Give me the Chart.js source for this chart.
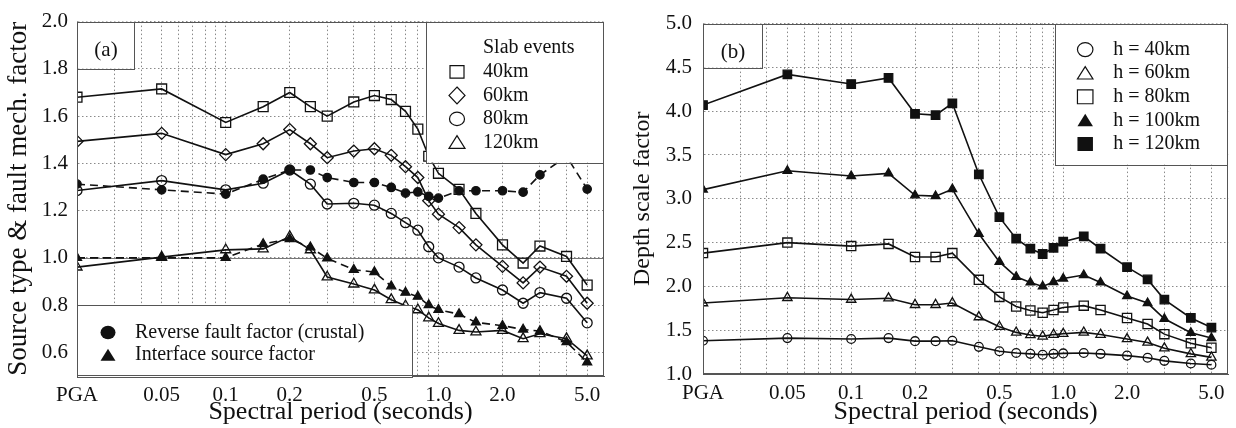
<!DOCTYPE html>
<html><head><meta charset="utf-8">
<script src="https://cdn.jsdelivr.net/npm/chart.js@4/dist/chart.umd.min.js"></script>
<style>
html,body{margin:0;padding:0;background:#fff;}
#wrap{position:relative;width:1236px;height:428px;overflow:hidden;}
.c{position:absolute;top:0;width:618px;height:428px;}
</style></head><body>
<div id="wrap">
<div class="c" style="left:0"><canvas id="ca" width="618" height="428"></canvas></div>
<div class="c" style="left:618px"><canvas id="cb" width="618" height="428"></canvas></div>
</div>
<script>
// ---- data ----
const pgaPeriod = 0.02; // PGA plotted at this period
const periods = [pgaPeriod,0.05,0.1,0.15,0.2,0.25,0.3,0.4,0.5,0.6,0.7,0.8,0.9,1.0,1.25,1.5,2.0,2.5,3.0,4.0,5.0];
const gridPeriods = [0.02,0.03,0.04,0.05,0.06,0.07,0.08,0.09,0.1,0.2,0.3,0.4,0.5,0.6,0.7,0.8,0.9,1,2,3,4,5];
const periodTickValues = [0.02,0.05,0.1,0.2,0.5,1,2,5];
const periodTickLabels = ['PGA','0.05','0.1','0.2','0.5','1.0','2.0','5.0'];

// panel (a)
const slab40  = [1.68,1.715,1.573,1.64,1.70,1.64,1.60,1.66,1.687,1.67,1.62,1.545,1.43,1.358,1.29,1.188,1.055,0.978,1.05,1.006,0.885];
const slab60  = [1.493,1.527,1.437,1.483,1.543,1.483,1.424,1.452,1.462,1.434,1.386,1.34,1.242,1.185,1.128,1.055,0.964,0.894,0.961,0.922,0.808];
const slab80  = [1.285,1.327,1.288,1.316,1.372,1.312,1.228,1.231,1.223,1.188,1.149,1.117,1.047,1.0,0.961,0.915,0.864,0.808,0.853,0.829,0.725];
const slab120 = [0.961,1.003,1.034,1.038,1.09,1.034,0.919,0.889,0.864,0.823,0.797,0.78,0.746,0.722,0.693,0.686,0.693,0.658,0.679,0.658,0.585];
const reverseFault   = [1.312,1.288,1.27,1.333,1.372,1.372,1.34,1.319,1.319,1.298,1.274,1.279,1.26,1.253,1.284,1.284,1.284,1.278,1.351,1.43,1.291];
const interfaceSource = [1.0,1.0,1.0,1.059,1.08,1.045,0.998,0.95,0.94,0.88,0.853,0.836,0.80,0.78,0.762,0.727,0.713,0.697,0.69,0.644,0.558];
const yTicksA = [0.6,0.8,1.0,1.2,1.4,1.6,1.8,2.0];
const referenceLevelA = 1.0;

// panel (b)
const depth40  = [1.38,1.41,1.40,1.41,1.375,1.375,1.38,1.31,1.26,1.24,1.23,1.22,1.23,1.235,1.24,1.23,1.21,1.185,1.15,1.12,1.105];
const depth60  = [1.81,1.87,1.85,1.865,1.79,1.79,1.81,1.65,1.54,1.475,1.445,1.43,1.45,1.46,1.475,1.45,1.40,1.36,1.295,1.23,1.19];
const depth80  = [2.38,2.50,2.46,2.485,2.335,2.335,2.38,2.075,1.88,1.77,1.725,1.70,1.73,1.76,1.78,1.73,1.64,1.57,1.455,1.35,1.30];
const depth100 = [3.105,3.32,3.26,3.29,3.04,3.03,3.11,2.60,2.28,2.11,2.045,2.0,2.05,2.09,2.13,2.045,1.89,1.81,1.63,1.47,1.41];
const depth120 = [4.07,4.42,4.31,4.38,3.97,3.955,4.09,3.28,2.79,2.545,2.43,2.37,2.44,2.51,2.57,2.43,2.22,2.08,1.85,1.64,1.53];
const yTicksB = [1.0,1.5,2.0,2.5,3.0,3.5,4.0,4.5,5.0];

const slabLegendTitle = 'Slab events';
const slabLabels = ['40km','60km','80km','120km'];
const crustLabels = ['Reverse fault factor (crustal)','Interface source factor'];
const depthLabels = ['h = 40km','h = 60km','h = 80km','h = 100km','h = 120km'];
const panelLabels = ['(a)','(b)'];
const xTitle = 'Spectral period (seconds)';
const yTitleA = 'Source type & fault mech. factor';
const yTitleB = 'Depth scale factor';

// ---- helpers ----
const FONT = "'Liberation Serif','Times New Roman',serif";
const INK = '#111';
const FRAME = '#555';
const pts = vals => vals.map((v,i)=>({x:periods[i], y:v}));

function ds(label, vals, style, radius, filled, dashed){
  return {
    label, data: pts(vals),
    borderColor: INK, borderWidth: 1.6, borderDash: dashed ? [8,5] : [],
    pointStyle: style, pointRadius: radius, pointHoverRadius: radius,
    pointBorderColor: INK, pointBorderWidth: 1.3,
    pointBackgroundColor: filled ? INK : 'rgba(0,0,0,0)',
    tension: 0, fill: false
  };
}

function marker(ctx, style, x, y, s, filled){
  ctx.save();
  ctx.lineWidth = 1.2; ctx.strokeStyle = INK; ctx.fillStyle = INK;
  ctx.beginPath();
  const h = s/2;
  if (style==='circle'){ ctx.ellipse(x,y,h,h*0.9,0,0,Math.PI*2); }
  else if (style==='rect'){ ctx.rect(x-h,y-h*0.9,s,s*0.9); }
  else if (style==='diamond'){ ctx.moveTo(x,y-h*1.05); ctx.lineTo(x+h,y); ctx.lineTo(x,y+h*1.05); ctx.lineTo(x-h,y); ctx.closePath(); }
  else if (style==='triangle'){ ctx.moveTo(x,y-h*0.85); ctx.lineTo(x+h,y+h*0.75); ctx.lineTo(x-h,y+h*0.75); ctx.closePath(); }
  if (filled) ctx.fill(); else ctx.stroke();
  ctx.restore();
}
function box(ctx, x, y, w, h){
  ctx.save(); ctx.fillStyle='#fff'; ctx.fillRect(x,y,w,h);
  ctx.strokeStyle=FRAME; ctx.lineWidth=1; ctx.strokeRect(Math.round(x)+0.5,Math.round(y)+0.5,Math.round(w)-1,Math.round(h));
  ctx.restore();
}
function text(ctx, str, x, y, size, align){
  ctx.save(); ctx.fillStyle=INK; ctx.font = size+'px '+FONT;
  ctx.textBaseline='middle'; ctx.textAlign=align||'left'; ctx.fillText(str,x,y); ctx.restore();
}

function makeOptions(cfg){
  return {
    responsive:false, animation:false, devicePixelRatio:1,
    layout:{padding:{top:cfg.padTop,right:cfg.padRight,left:0,bottom:0}},
    plugins:{legend:{display:false}, tooltip:{enabled:false}},
    scales:{
      x:{
        type:'logarithmic', min:0.02, max:6,
        afterBuildTicks: s => { s.ticks = gridPeriods.map(v=>({value:v})); },
        afterFit: s => { s.height = cfg.xAxisH; },
        ticks:{ autoSkip:false, maxRotation:0, padding:7, color:INK,
          font:{family:FONT,size:21},
          callback: v => { const i = periodTickValues.findIndex(t=>Math.abs(t-v)<1e-9); return i>=0 ? periodTickLabels[i] : ''; } },
        grid:{ color:'#8a8a8a', lineWidth:1, drawTicks:false },
        border:{ display:true, color:FRAME, dash:[1.5,2.5] },
        title:{ display:true, text:xTitle, color:INK, font:{family:FONT,size:26}, padding:{top:0,bottom:0} }
      },
      y:{
        type:'linear', min:cfg.yMin, max:cfg.yMax,
        afterBuildTicks: s => { s.ticks = cfg.yTicks.map(v=>({value:v})); },
        afterFit: s => { s.width = cfg.yAxisW; },
        ticks:{ padding:cfg.yPad, color:INK, font:{family:FONT,size:21}, callback: v => Number(v).toFixed(1) },
        grid:{ color:'#8a8a8a', lineWidth:1, drawTicks:false },
        border:{ display:true, color:FRAME, dash:[1.5,2.5] },
        title:{ display:true, text:cfg.yTitle, color:INK, font:{family:FONT,size:cfg.yTitleSize}, padding:{top:cfg.yTitlePad,bottom:0} }
      }
    }
  };
}

function frame(ctx,a){
  ctx.save(); ctx.strokeStyle=FRAME; ctx.lineWidth=1;
  ctx.strokeRect(Math.round(a.left)+0.5, Math.round(a.top)+0.5, Math.round(a.right-a.left)-1, Math.round(a.bottom-a.top)-1);
  ctx.restore();
}

const decoA = {
  id:'decoA',
  beforeDatasetsDraw(chart){
    const {ctx, chartArea:a, scales:{y}} = chart;
    const py = Math.round(y.getPixelForValue(referenceLevelA))+0.5;
    ctx.save(); ctx.strokeStyle='#777'; ctx.lineWidth=1;
    ctx.beginPath(); ctx.moveTo(a.left,py); ctx.lineTo(a.right,py); ctx.stroke(); ctx.restore();
  },
  afterDatasetsDraw(chart){
    const {ctx, chartArea:a} = chart;
    box(ctx, a.left, a.top, 58, 47);
    text(ctx, panelLabels[0], a.left+29, a.top+29, 21, 'center');
    const lx = a.right-178;
    box(ctx, lx, a.top, 178, 141);
    text(ctx, slabLegendTitle, lx+57, a.top+26, 20);
    const styles = ['rect','diamond','circle','triangle'];
    const sizes = [14,16,15,16];
    slabLabels.forEach((lab,i)=>{
      const yy = a.top+50.3+23.5*i;
      marker(ctx, styles[i], lx+31, yy, sizes[i], false);
      text(ctx, lab, lx+57, yy, 20);
    });
    const by = a.bottom-71;
    box(ctx, a.left, by, 336, 72);
    const cs = ['circle','triangle'];
    crustLabels.forEach((lab,i)=>{
      const yy = by+27.5+22.6*i;
      marker(ctx, cs[i], a.left+31, yy, 15, true);
      text(ctx, lab, a.left+58, yy, 20);
    });
  },
  afterDraw(chart){ frame(chart.ctx, chart.chartArea); }
};

const decoB = {
  id:'decoB',
  afterDatasetsDraw(chart){
    const {ctx, chartArea:a} = chart;
    box(ctx, a.left, a.top, 60, 44);
    text(ctx, panelLabels[1], a.left+30, a.top+29, 21, 'center');
    const lx = a.right-173;
    box(ctx, lx, a.top, 173, 141);
    const st = [['circle',false],['triangle',false],['rect',false],['triangle',true],['rect',true]];
    depthLabels.forEach((lab,i)=>{
      const yy = a.top+26+23.6*i;
      marker(ctx, st[i][0], lx+30, yy, 15.5, st[i][1]);
      text(ctx, lab, lx+58, yy, 20);
    });
  },
  afterDraw(chart){ frame(chart.ctx, chart.chartArea); }
};

new Chart(document.getElementById('ca'), {
  type:'line',
  data:{ datasets:[
    ds('40km', slab40, 'rect', 7, false, false),
    ds('60km', slab60, 'rectRot', 6, false, false),
    ds('80km', slab80, 'circle', 5, false, false),
    ds('120km', slab120, 'triangle', 5.8, false, false),
    ds('Reverse fault factor (crustal)', reverseFault, 'circle', 4.2, true, true),
    ds('Interface source factor', interfaceSource, 'triangle', 5.2, true, true)
  ]},
  options: makeOptions({padTop:18, padRight:14, xAxisH:52, yAxisW:77, yPad:9, yMin:0.5, yMax:2.0, yTicks:yTicksA, yTitle:yTitleA, yTitleSize:27, yTitlePad:3}),
  plugins:[decoA]
});

new Chart(document.getElementById('cb'), {
  type:'line',
  data:{ datasets:[
    ds('h = 40km', depth40, 'circle', 4.4, false, false),
    ds('h = 60km', depth60, 'triangle', 5.4, false, false),
    ds('h = 80km', depth80, 'rect', 6.5, false, false),
    ds('h = 100km', depth100, 'triangle', 5, true, false),
    ds('h = 120km', depth120, 'rect', 6, true, false)
  ]},
  options: makeOptions({padTop:19, padRight:6, xAxisH:54, yAxisW:85, yPad:11, yMin:1.0, yMax:5.0, yTicks:yTicksB, yTitle:yTitleB, yTitleSize:24, yTitlePad:10}),
  plugins:[decoB]
});
</script>
</body></html>
